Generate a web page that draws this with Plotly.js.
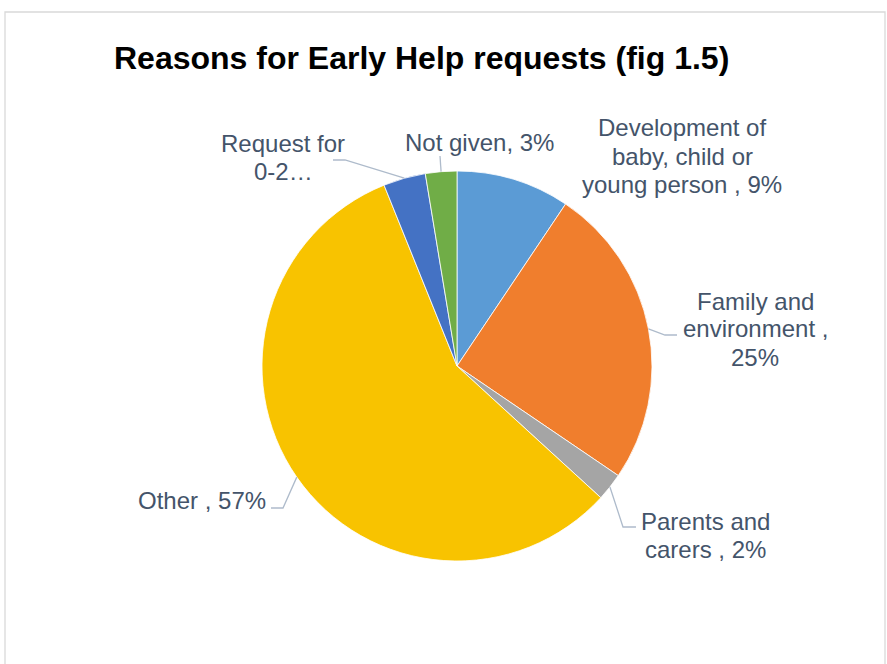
<!DOCTYPE html>
<html>
<head>
<meta charset="utf-8">
<script src="https://cdn.plot.ly/plotly-3.0.1.min.js"></script>
<style>html,body{margin:0;padding:0;background:#fff;}#chart{width:887px;height:664px;}</style>
</head>
<body>
<div id="chart"></div>
<script>
// ---- data ----
const categories = ["Development of baby, child or young person", "Family and environment", "Parents and carers", "Other", "Request for 0-2…", "Not given"];
const values = [9.4, 25.1, 2.3, 57.1, 3.5, 2.6];
const labelLines = [
  ["Development of", "baby, child or", "young person , 9%"],
  ["Family and", "environment ,", "25%"],
  ["Parents and", "carers , 2%"],
  ["Other , 57%"],
  ["Request for", "0-2…"],
  ["Not given, 3%"]
];
const colors = ["#5B9BD5", "#F07E2D", "#A5A5A5", "#F8C300", "#4472C4", "#70AD47"];
const titleText = "Reasons for Early Help requests (fig 1.5)";

// ---- layout helpers (pixel positions -> paper) ----
const W = 887, H = 664;
const px = x => x / W;
const py = y => 1 - y / H;
const cx = 457, cy = 366, R = 195;

// label placement (center x, first-line mid y) and leader elbows
const labelPos = [
  {x: 682, y: 128},
  {x: 755, y: 301},
  {x: 705, y: 521},
  {x: 202, y: 501},
  {x: 283, y: 143},
  {x: 479, y: 142}
];
const lineH = 28;
// leader lines: list of extra points after the slice-edge point
const leaders = [
  null,
  [[665, 335], [677, 335]],
  [[623, 527], [636, 527]],
  [[283, 508], [271, 508]],
  [[345, 160], [333, 160]],
  [[440, 156]]
];

const total = values.reduce((a, b) => a + b, 0);
let cum = 0;
const shapes = [];
values.forEach((v, i) => {
  const mid = (cum + v / 2) / total * 2 * Math.PI;
  cum += v;
  if (!leaders[i]) return;
  const ex = cx + R * Math.sin(mid), ey = cy - R * Math.cos(mid);
  const pts = [[ex, ey]].concat(leaders[i]);
  const path = pts.map((p, k) => (k ? "L" : "M") + px(p[0]).toFixed(5) + "," + py(p[1]).toFixed(5)).join(" ");
  shapes.push({type: "path", xref: "paper", yref: "paper", path: path, line: {color: "#AEBBCB", width: 1.3}});
});
// outer chart frame
shapes.push({type: "rect", xref: "paper", yref: "paper", x0: px(5), x1: px(885), y0: py(700), y1: py(12), line: {color: "#D9D9D9", width: 1.3}});

const annotations = [];
labelLines.forEach((lines, i) => {
  lines.forEach((t, k) => {
    annotations.push({
      xref: "paper", yref: "paper", x: px(labelPos[i].x), y: py(labelPos[i].y + k * lineH),
      xanchor: "center", yanchor: "middle", showarrow: false, text: t,
      font: {family: "Liberation Sans, Arial, sans-serif", size: 24, color: "#44546A"}
    });
  });
});
annotations.push({
  xref: "paper", yref: "paper", x: px(421), y: py(58), xanchor: "center", yanchor: "middle",
  showarrow: false, text: "<b>" + titleText + "</b>",
  font: {family: "Liberation Sans, Arial, sans-serif", size: 32, color: "#000000"}
});

const trace = {
  type: "pie",
  labels: categories,
  values: values,
  sort: false,
  direction: "clockwise",
  rotation: 0,
  textinfo: "none",
  hoverinfo: "label+percent",
  marker: {colors: colors, line: {color: "#FFFFFF", width: 0.8}},
  domain: {x: [px(cx - R), px(cx + R)], y: [py(cy + R), py(cy - R)]},
  showlegend: false
};

const layout = {
  width: W, height: H,
  margin: {l: 0, r: 0, t: 0, b: 0},
  paper_bgcolor: "#FFFFFF",
  showlegend: false,
  shapes: shapes,
  annotations: annotations
};

Plotly.newPlot("chart", [trace], layout, {displayModeBar: false, staticPlot: true});
</script>
</body>
</html>
